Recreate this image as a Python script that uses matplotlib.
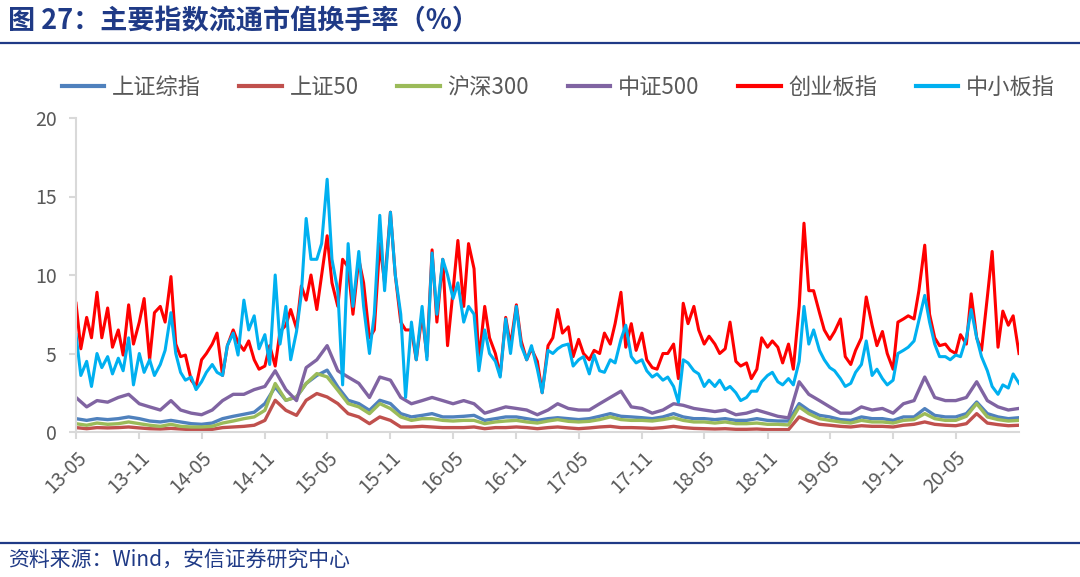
import matplotlib
matplotlib.use("Agg")
import matplotlib.pyplot as plt
import matplotlib.dates as mdates
from matplotlib.lines import Line2D
import pandas as pd


# semi-monthly points (1st / 15th), 2013-05-01 .. 2020-11-01
CHINEXT = [
    8.2, 5.3, 7.3, 6.0, 8.9, 6.0, 7.9, 5.4, 6.5, 4.9,
    8.1, 5.6, 7.0, 8.5, 4.6, 7.6, 8.0, 7.0, 9.9, 5.6,
    4.8, 4.9, 3.3, 2.9, 4.6, 5.0, 5.6, 6.3, 3.6, 5.5,
    6.5, 5.7, 5.2, 5.8, 4.6, 4.0, 4.2, 5.5, 4.2, 6.4,
    6.8, 7.8, 6.6, 9.3, 8.4, 10.0, 7.8, 10.0, 12.5, 9.5,
    8.0, 11.0, 10.5, 7.5, 11.0, 9.5, 6.0, 6.5, 12.0, 9.5,
    14.0, 10.0, 7.0, 6.5, 6.5, 4.6, 7.5, 4.8, 11.6, 7.0,
    11.0, 5.5, 9.0, 12.2, 8.0, 12.0, 10.4, 4.5, 8.0, 6.0,
    5.0, 3.6, 7.3, 5.5, 8.1, 5.8, 4.6, 5.3, 4.5, 2.5,
    5.5, 6.0, 7.8, 6.3, 6.7, 4.8, 5.9, 5.0, 4.6, 5.2,
    5.0, 6.3, 5.6, 6.9, 8.9, 5.4, 6.9, 5.2, 6.3, 4.6,
    4.1, 4.0, 5.0, 5.0, 5.6, 3.4, 8.2, 6.9, 8.0, 6.5,
    5.6, 6.1, 5.6, 5.0, 5.3, 7.0, 4.5, 4.2, 4.4, 3.4,
    4.0, 6.0, 5.4, 5.8, 5.4, 4.4, 5.6, 4.0, 8.0, 13.3,
    9.0, 9.0, 7.6, 6.5, 5.9, 6.4, 7.2, 4.8, 4.3, 5.2,
    6.0, 8.6, 6.8, 5.5, 6.4, 5.0, 4.0, 7.0, 7.2, 7.4,
    7.2, 9.0, 11.9, 7.5, 6.0, 5.5, 5.6, 5.2, 5.0, 6.2,
    5.6, 8.8, 6.0, 5.2, 8.6, 11.5, 5.4, 7.7, 6.8, 7.4,
    5.0,
]

SME = [
    6.2, 3.6, 4.5, 2.9, 5.0, 4.1, 4.8, 3.7, 4.7, 3.9,
    6.0, 3.0, 5.0, 3.8, 4.6, 3.6, 4.3, 5.2, 7.6, 5.0,
    3.8, 3.3, 3.5, 2.7, 3.2, 3.8, 4.3, 3.8, 3.6, 5.5,
    6.3, 4.9, 8.4, 6.5, 7.4, 5.3, 6.2, 4.3, 10.0, 5.6,
    8.0, 4.6, 6.4, 8.8, 13.6, 11.0, 11.0, 12.0, 16.1, 11.0,
    9.0, 3.0, 12.0, 8.0, 11.5, 8.0, 5.0, 7.5, 13.8, 9.0,
    14.0, 10.0, 7.5, 2.2, 7.0, 4.6, 8.0, 4.6, 11.4, 7.5,
    11.0, 10.0, 8.5, 9.5, 7.0, 8.0, 7.5, 3.9, 6.5, 5.0,
    4.5, 3.5, 7.2, 5.0, 8.0, 5.5, 4.6, 5.5, 4.0, 2.5,
    5.2, 5.0, 5.3, 5.5, 5.6, 4.2, 4.6, 4.8, 3.7, 4.9,
    3.9, 3.8, 4.6, 4.4, 5.9, 6.8, 4.8, 4.4, 4.6, 3.9,
    3.5, 3.7, 3.3, 3.5, 2.9, 1.9, 4.6, 4.4, 3.9, 3.7,
    2.9, 3.3, 2.9, 3.3, 2.7, 2.9, 2.5, 2.0, 2.2, 2.6,
    2.6, 3.2, 3.6, 3.8, 3.2, 3.0, 3.4, 3.0, 4.5, 8.0,
    5.6, 6.5, 5.2, 4.6, 4.1, 3.9, 3.4, 2.9, 3.1, 3.8,
    4.3, 5.8, 3.6, 4.0, 3.4, 3.0, 3.3, 5.0, 5.2, 5.4,
    5.8, 7.1, 8.7, 7.0, 5.6, 4.8, 4.8, 4.6, 4.9, 4.8,
    6.0, 7.8, 6.0, 4.8, 3.9, 2.9, 2.4, 3.0, 2.8, 3.7,
    3.1,
]

# monthly points, 2013-05 .. 2020-11
CSI500 = [
    2.2, 1.6, 2.0, 1.9, 2.2, 2.4, 1.8, 1.6, 1.4, 2.0,
    1.4, 1.2, 1.1, 1.4, 2.0, 2.4, 2.4, 2.7, 2.9, 3.9,
    2.7, 2.0, 4.1, 4.6, 5.5, 3.9, 3.5, 3.1, 2.2, 3.5,
    3.3, 2.2, 1.8, 2.0, 2.2, 2.0, 1.8, 2.0, 1.8, 1.2,
    1.4, 1.6, 1.5, 1.4, 1.1, 1.4, 1.8, 1.5, 1.4, 1.4,
    1.8, 2.2, 2.6, 1.6, 1.5, 1.2, 1.4, 1.8, 1.7, 1.5,
    1.4, 1.3, 1.4, 1.1, 1.2, 1.4, 1.2, 1.0, 0.9, 3.2,
    2.4, 2.0, 1.6, 1.2, 1.2, 1.6, 1.4, 1.5, 1.2, 1.8,
    2.0, 3.5, 2.2, 2.0, 2.0, 2.2, 3.2, 2.0, 1.6, 1.4,
    1.5,
]

SSE_COMP = [
    0.85, 0.74, 0.85, 0.79, 0.85, 0.96, 0.85, 0.70, 0.64, 0.74,
    0.64, 0.53, 0.49, 0.57, 0.85, 1.00, 1.13, 1.26, 1.81, 2.87,
    2.02, 2.23, 3.09, 3.60, 3.94, 2.87, 2.02, 1.81, 1.38, 2.02,
    1.81, 1.17, 0.96, 1.06, 1.17, 0.96, 0.96, 1.00, 1.06, 0.74,
    0.85, 0.96, 0.96, 0.85, 0.74, 0.85, 0.91, 0.85, 0.79, 0.85,
    1.00, 1.17, 1.00, 0.96, 0.91, 0.85, 0.96, 1.17, 0.96, 0.85,
    0.85, 0.79, 0.85, 0.74, 0.74, 0.85, 0.74, 0.70, 0.70, 1.81,
    1.38, 1.06, 0.96, 0.79, 0.74, 0.96, 0.85, 0.85, 0.74, 0.96,
    0.96, 1.49, 1.06, 0.96, 0.96, 1.17, 1.91, 1.17, 0.96, 0.85,
    0.91,
]

SSE50 = [
    0.28, 0.21, 0.28, 0.26, 0.28, 0.32, 0.26, 0.21, 0.19, 0.23,
    0.19, 0.15, 0.15, 0.17, 0.28, 0.32, 0.36, 0.43, 0.74, 2.02,
    1.38, 1.06, 2.02, 2.45, 2.23, 1.81, 1.17, 0.96, 0.53, 0.96,
    0.74, 0.32, 0.32, 0.36, 0.32, 0.28, 0.28, 0.28, 0.32, 0.21,
    0.28, 0.28, 0.32, 0.28, 0.21, 0.28, 0.32, 0.26, 0.21, 0.26,
    0.32, 0.36, 0.28, 0.28, 0.26, 0.23, 0.28, 0.36, 0.28, 0.23,
    0.21, 0.19, 0.21, 0.17, 0.17, 0.19, 0.15, 0.15, 0.15, 0.96,
    0.70, 0.49, 0.43, 0.36, 0.32, 0.40, 0.36, 0.36, 0.32, 0.43,
    0.49, 0.64, 0.49, 0.43, 0.40, 0.53, 1.17, 0.57, 0.47, 0.40,
    0.43,
]

CSI300 = [
    0.53, 0.43, 0.57, 0.49, 0.53, 0.64, 0.53, 0.43, 0.36, 0.49,
    0.36, 0.32, 0.32, 0.36, 0.57, 0.70, 0.85, 0.96, 1.38, 3.09,
    2.02, 2.23, 3.09, 3.72, 3.51, 2.66, 1.81, 1.60, 1.17, 1.81,
    1.49, 0.96, 0.74, 0.85, 0.85, 0.74, 0.70, 0.74, 0.74, 0.53,
    0.64, 0.70, 0.74, 0.64, 0.57, 0.70, 0.79, 0.68, 0.64, 0.68,
    0.79, 0.96, 0.79, 0.74, 0.74, 0.70, 0.79, 0.91, 0.74, 0.64,
    0.64, 0.57, 0.64, 0.53, 0.53, 0.57, 0.49, 0.49, 0.45, 1.60,
    1.17, 0.85, 0.74, 0.64, 0.57, 0.74, 0.64, 0.64, 0.57, 0.74,
    0.79, 1.17, 0.85, 0.74, 0.74, 1.00, 1.81, 0.96, 0.79, 0.70,
    0.74,
]

TITLE = "图 27：主要指数流通市值换手率（%）"
SOURCE = "资料来源：Wind，安信证券研究中心"
DARK_BLUE = "#1F3A86"
TEXT_GREY = "#595959"


def main():
    plt.rcParams["font.family"] = ["Noto Sans CJK SC", "DejaVu Sans"]

    half_month = pd.date_range("2013-05-01", periods=len(CHINEXT), freq="SMS")
    month = pd.date_range("2013-05-01", periods=len(CSI500), freq="MS")

    fig = plt.figure(figsize=(10.8, 5.77), dpi=100)
    ax = fig.add_axes([76 / 1080, 1 - 432 / 577, 943 / 1080, 314 / 577])

    series = [
        ("上证综指", month, SSE_COMP, "#4F81BD", 2.4),
        ("上证50", month, SSE50, "#C0504D", 2.4),
        ("沪深300", month, CSI300, "#9BBB59", 2.4),
        ("中证500", month, CSI500, "#8064A2", 2.4),
        ("创业板指", half_month, CHINEXT, "#FF0000", 2.2),
        ("中小板指", half_month, SME, "#00B0F0", 2.2),
    ]
    for label, dates, values, color, lw in series:
        ax.plot(dates, values, color=color, lw=lw, label=label)

    ax.set_ylim(0, 20)
    ax.set_yticks([0, 5, 10, 15, 20])
    ax.set_xlim(pd.Timestamp("2013-05-01"), pd.Timestamp("2020-11-01"))
    ticks = pd.date_range("2013-05-01", "2020-05-01", freq="6MS")
    ax.set_xticks(ticks)
    ax.xaxis.set_major_formatter(mdates.DateFormatter("%y-%m"))

    for side in ["top", "right"]:
        ax.spines[side].set_visible(False)
    for side in ["left", "bottom"]:
        ax.spines[side].set_color("#D9D9D9")
        ax.spines[side].set_linewidth(1.5)

    ax.tick_params(axis="y", colors="#D9D9D9", labelcolor=TEXT_GREY,
                   labelsize=14, length=5, width=1.5, pad=9)
    ax.tick_params(axis="x", colors="#D9D9D9", labelcolor=TEXT_GREY,
                   labelsize=14, length=5, width=1.5, pad=6)
    for lbl in ax.get_xticklabels():
        lbl.set_rotation(45)
        lbl.set_ha("right")
        lbl.set_va("top")
        lbl.set_rotation_mode("anchor")

    handles = [Line2D([], [], color=c, lw=3) for _, _, _, c, _ in series]
    labels = [s[0] for s in series]
    fig.legend(handles, labels, loc="center", bbox_to_anchor=(0.517, 1 - 87 / 577),
               ncol=6, frameon=False, fontsize=16, labelcolor=TEXT_GREY,
               handlelength=1.9, handletextpad=0.35, columnspacing=1.75)

    fig.text(8 / 1080, 1 - 21 / 577, TITLE, fontsize=19.5, fontweight="bold",
             color=DARK_BLUE, va="center", ha="left")
    fig.add_artist(Line2D([0, 1], [1 - 43 / 577] * 2, color=DARK_BLUE, lw=1.6))
    fig.add_artist(Line2D([0, 1], [1 - 543 / 577] * 2, color=DARK_BLUE, lw=1.6))
    fig.text(8 / 1080, 1 - 561 / 577, SOURCE, fontsize=15, style="italic",
             color=DARK_BLUE, va="center", ha="left")

    fig.savefig("out.png", dpi=100, facecolor="white")
    plt.close(fig)


if __name__ == "__main__":
    main()
